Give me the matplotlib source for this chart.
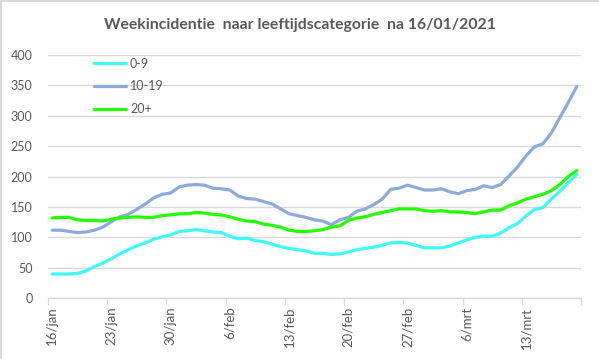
import pandas as pd
import matplotlib
matplotlib.use("Agg")
import matplotlib.pyplot as plt
from matplotlib.lines import Line2D

# daily week incidence per age group, 16/01/2021 .. 19/03/2021
start_date = "2021-01-16"
age_0_9 = [40, 40, 40, 41, 45, 52, 58, 65, 73, 80, 86, 91, 97, 101, 104, 110,
           111, 113, 111, 109, 108, 102, 98, 99, 95, 93, 89, 85, 82, 80, 78, 74,
           74, 72, 73, 76, 80, 82, 84, 87, 91, 92, 91, 87, 83, 83, 83, 86,
           91, 96, 100, 102, 102, 107, 116, 123, 135, 146, 149, 163, 176, 190, 204]
age_10_19 = [112, 112, 110, 108, 109, 112, 117, 126, 134, 138, 146, 155, 165, 171, 173, 183,
             186, 187, 186, 181, 180, 178, 168, 164, 163, 159, 155, 147, 139, 136, 133, 129,
             127, 121, 129, 133, 143, 147, 154, 163, 179, 181, 186, 182, 178, 178, 180, 175,
             172, 177, 179, 185, 182, 187, 201, 216, 234, 249, 254, 272, 297, 322, 348]
age_20_plus = [132, 133, 133, 129, 128, 128, 127, 130, 132, 133, 134, 133, 133, 136, 137, 139,
               139, 141, 140, 138, 137, 134, 130, 127, 126, 122, 120, 117, 112, 110, 110, 111,
               113, 117, 119, 128, 132, 134, 138, 141, 144, 147, 147, 147, 144, 143, 144, 142,
               142, 141, 139, 142, 145, 145, 152, 157, 163, 167, 171, 177, 187, 200, 210]
week_labels = ["16/jan", "23/jan", "30/jan", "6/feb", "13/feb",
               "20/feb", "27/feb", "6/mrt", "13/mrt"]

series = [("0-9", age_0_9, "#3FF8F8"),
          ("10-19", age_10_19, "#8EA9DB"),
          ("20+", age_20_plus, "#22FF00")]

dates = pd.date_range(start_date, periods=len(age_0_9), freq="D")
x = list(range(len(dates)))

txt = "#595959"
grid = "#D9D9D9"
plt.rcParams["font.family"] = ["Lato", "DejaVu Sans"]

fig = plt.figure(figsize=(5.99, 3.59), dpi=100)
# chart border, only top and left edge are inside the picture
fig.add_artist(Line2D([0.001, 0.001], [0, 1], color=grid, linewidth=1.5))
fig.add_artist(Line2D([0, 1], [0.998, 0.998], color=grid, linewidth=1.5))
ax = fig.add_axes([0.080, 0.169, 0.890, 0.678])

for name, vals, col in series:
    ax.plot(x, vals, color=col, linewidth=2.3, label=name, solid_capstyle="round")

ax.set_ylim(0, 400)
ax.set_yticks(range(0, 401, 50))
ax.set_xlim(-0.5, len(dates) - 0.5)

# category labels every 7 days, tick marks on the category boundaries
ax.set_xticks(x[::7][:len(week_labels)])
ax.set_xticklabels(week_labels, rotation=90)
ax.set_xticks([b - 0.5 for b in range(0, len(dates) + 1, 7)], minor=True)
ax.tick_params(axis="x", which="major", length=0, pad=6, labelsize=9.5, labelcolor=txt)
ax.tick_params(axis="x", which="minor", length=5, width=1, color=grid, direction="out")
ax.tick_params(axis="y", length=0, pad=11, labelsize=9, labelcolor=txt)

ax.grid(axis="y", color=grid, linewidth=1)
ax.set_axisbelow(True)
for s in ["left", "right", "top"]:
    ax.spines[s].set_visible(False)
ax.spines["bottom"].set_color(grid)
ax.spines["bottom"].set_linewidth(1)

ax.legend(loc="upper left", bbox_to_anchor=(0.065, 1.035), frameon=False,
          fontsize=9, labelcolor=txt, handlelength=2.6, handletextpad=0.3,
          labelspacing=0.85)

fig.text(0.50, 0.93, "Weekincidentie  naar leeftijdscategorie  na 16/01/2021",
         ha="center", va="center", fontsize=11.3, fontweight="bold", color=txt)

fig.savefig("out.png", dpi=100)
